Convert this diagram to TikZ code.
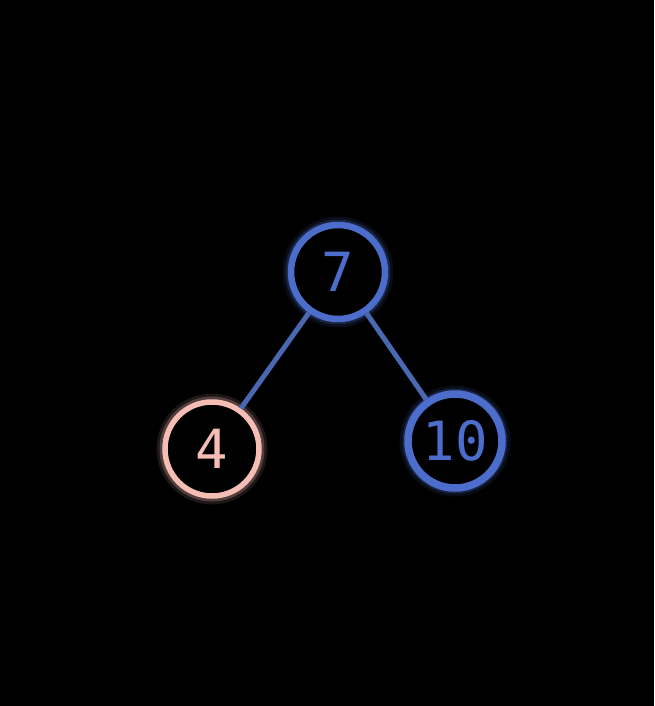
\documentclass[tikz,border=0pt]{standalone}
\usepackage{fontspec}
\setmonofont{DejaVu Sans Mono}
\definecolor{nblue}{HTML}{4D6DCC}
\definecolor{eblue}{HTML}{4A67B2}
\definecolor{npink}{HTML}{F6BDB5}
\tikzset{
  tnode/.style={circle, fill=black, minimum size=94pt, inner sep=0pt, line width=6.5pt,
    font=\ttfamily\fontsize{54}{54}\selectfont},
  glow/.style={circle, minimum size=94pt, inner sep=0pt, draw=#1, draw opacity=0.12, line width=17pt},
  glowb/.style={circle, minimum size=94pt, inner sep=0pt, draw=#1, draw opacity=0.25, line width=11pt},
  edge/.style={draw=eblue, line width=5pt}
}
\begin{document}
\begin{tikzpicture}[x=1pt,y=-1pt]
\fill[black] (0,0) rectangle (654,706);
\useasboundingbox (0,0) rectangle (654,706);
% glows
\node[glow=nblue] at (338,272) {};
\node[glowb=nblue] at (338,272) {};
\node[glow=npink] at (212,449) {};
\node[glowb=npink] at (212,449) {};
\node[glow=nblue] at (455,441) {};
\node[glowb=nblue] at (455,441) {};
% nodes
\node[tnode, draw=nblue, text=nblue] (n7) at (338,272) {7};
\node[tnode, draw=npink, text=npink, line width=5.5pt] (n4) at (212,449) {4};
\node[tnode, draw=nblue, text=nblue, line width=7.5pt] (n10) at (455,441) {10};
% edges
\draw[edge] (n7) -- (n4);
\draw[edge] (n7) -- (n10);
\end{tikzpicture}
\end{document}
